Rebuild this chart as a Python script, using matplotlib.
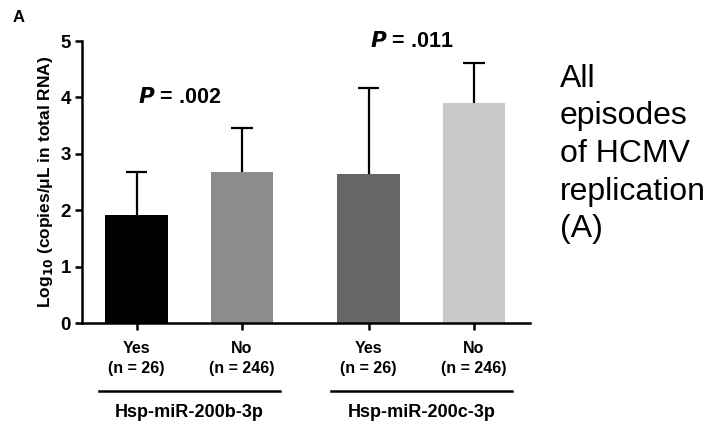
import matplotlib
matplotlib.use('Agg')
import matplotlib.pyplot as plt
import matplotlib.transforms as mtransforms

plt.rcParams['font.family'] = ['Liberation Sans', 'DejaVu Sans']

# data
categories = ['Yes\n(n = 26)', 'No\n(n = 246)', 'Yes\n(n = 26)', 'No\n(n = 246)']
means = [1.91, 2.68, 2.64, 3.90]
upper_sd = [0.77, 0.78, 1.53, 0.71]
bar_colors = ['#000000', '#8c8c8c', '#666666', '#c8c8c8']
groups = ['Hsp-miR-200b-3p', 'Hsp-miR-200c-3p']
p_values = ['.002', '.011']
p_heights = [4.0, 5.0]

positions = [0, 1, 2.2, 3.2]

fig = plt.figure(figsize=(7.11, 4.25), dpi=100)
ax = fig.add_axes([0.1153, 0.24, 0.630, 0.6635])

ax.bar(positions, means, width=0.59, color=bar_colors, zorder=2)
# upper-only error bars, drawn by hand so no cap sits on the bar top
tops = [m + e for m, e in zip(means, upper_sd)]
ax.vlines(positions, means, tops, color='black', lw=1.6, zorder=1)
ax.hlines(tops, [p - 0.1 for p in positions], [p + 0.1 for p in positions],
          color='black', lw=1.6, zorder=1)

ax.set_xlim(-0.517, 3.73)
ax.set_ylim(0, 5)
ax.set_yticks(range(6))
ax.set_xticks(positions)
ax.set_xticklabels(categories, fontsize=11.5, fontweight='bold', linespacing=1.4)
ax.tick_params(axis='y', labelsize=13.5, width=1.8, length=5, pad=3)
ax.tick_params(axis='x', width=1.8, length=5, pad=8)
for lbl in ax.get_yticklabels():
    lbl.set_fontweight('bold')

for s in ['top', 'right']:
    ax.spines[s].set_visible(False)
for s in ['left', 'bottom']:
    ax.spines[s].set_linewidth(1.8)

ax.set_ylabel('Log$_{\\mathbf{10}}$ (copies/\u03bcL in total RNA)',
              fontsize=12.5, fontweight='bold', labelpad=4)

# group lines + names under the ticks
trans = mtransforms.blended_transform_factory(ax.transData, ax.transAxes)
group_centers = [(positions[0] + positions[1]) / 2, (positions[2] + positions[3]) / 2]
for c, g in zip(group_centers, groups):
    ax.plot([c - 0.86, c + 0.86], [-0.241, -0.241], color='black', lw=1.8,
            transform=trans, clip_on=False)
    ax.text(c, -0.318, g, transform=trans, ha='center', va='center',
            fontsize=13, fontweight='bold')

# p-value annotations
for c, p, h in zip(group_centers, p_values, p_heights):
    ax.text(c - 0.09, h, '$\\boldsymbol{P}$ = ' + p, ha='center', va='center',
            fontsize=15.5, fontweight='bold')

fig.text(0.018, 0.96, 'A', fontsize=12, fontweight='bold', ha='left', va='center')

fig.text(0.787, 0.85, 'All\nepisodes\nof HCMV\nreplication\n(A)', fontsize=23,
         ha='left', va='top', linespacing=1.33)

fig.savefig('out.png', dpi=100)
